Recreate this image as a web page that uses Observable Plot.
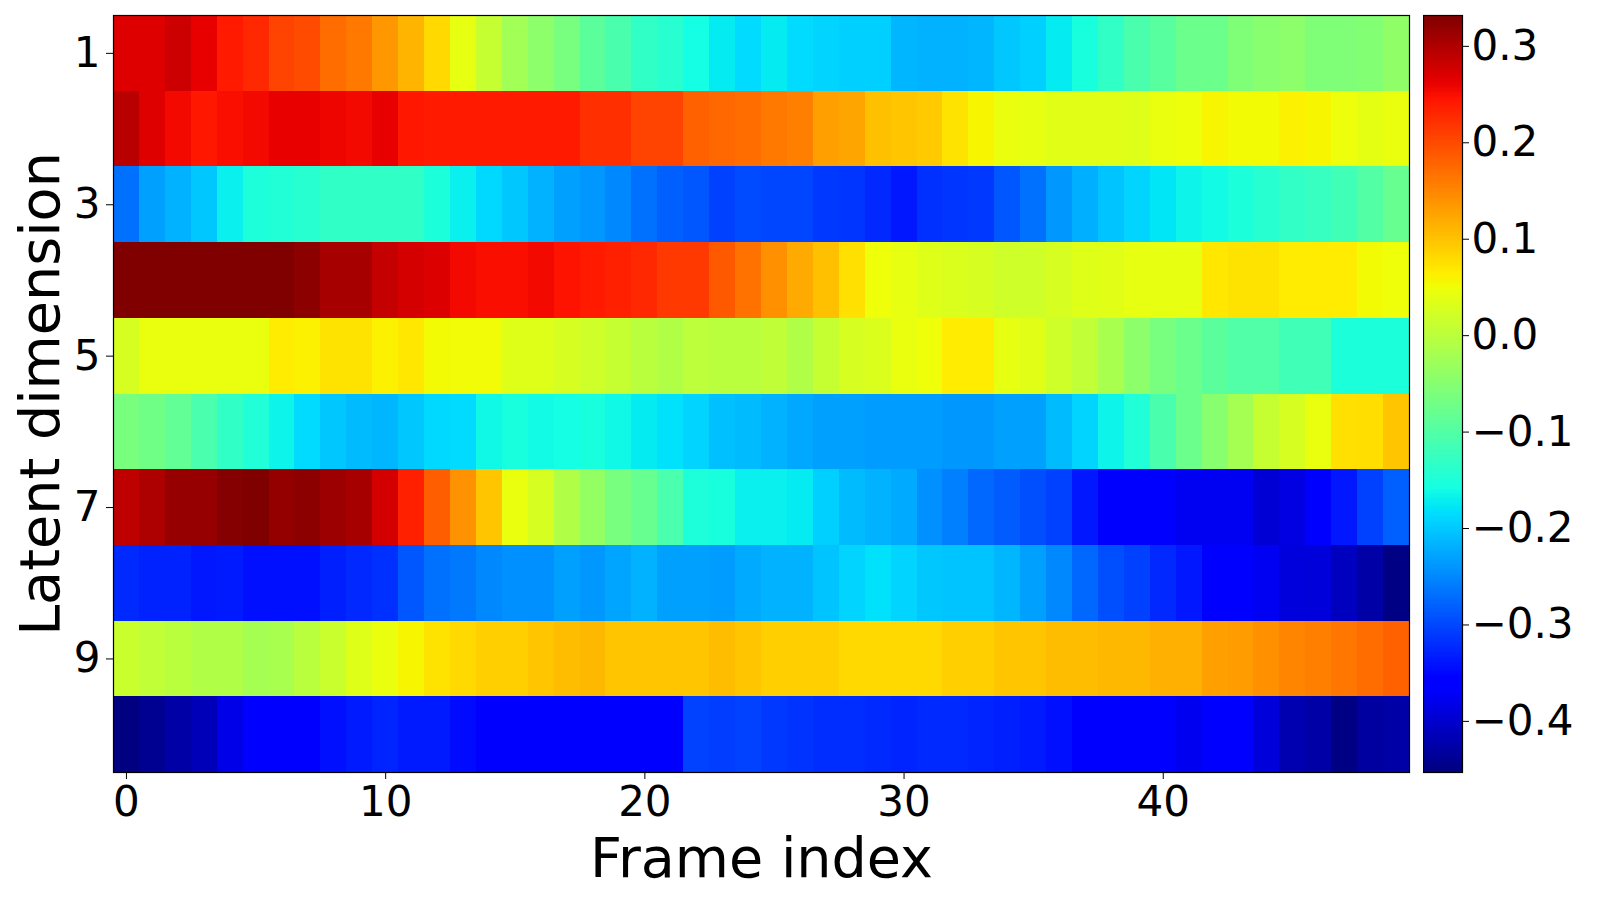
<!DOCTYPE html>
<html>
<head>
<meta charset="utf-8">
<script src="https://cdn.jsdelivr.net/npm/d3@7"></script>
<script src="https://cdn.jsdelivr.net/npm/@observablehq/plot@0.6"></script>
<style>
  html, body { margin: 0; padding: 0; background: #fff; overflow: hidden; }
  #wrap { position: relative; width: 1600px; height: 900px; font-family: "DejaVu Sans", sans-serif; overflow: hidden; }
  #main, #cbar { position: absolute; top: 0; }
  #main { left: 0; width: 1420px; }
  #cbar { left: 1423px; width: 189px; }
  #main svg, #cbar svg { max-width: none !important; display: block; }
</style>
</head>
<body>
<div id="wrap"><div id="main"></div><div id="cbar"></div></div>
<script>
// ---- data ----
const xLabel = "Frame index";
const yLabel = "Latent dimension";
const xTicks = [0, 10, 20, 30, 40];
const yTicks = [1, 3, 5, 7, 9];
const cbTicks = [-0.4, -0.3, -0.2, -0.1, 0.0, 0.1, 0.2, 0.3];
const vMin = -0.453, vMax = 0.332;
const dims = [1, 2, 3, 4, 5, 6, 7, 8, 9, 10];

const dim1 = [0.268,0.268,0.280,0.261,0.240,0.228,0.206,0.199,0.171,0.161,0.136,0.112,0.081,0.042,0.010,-0.025,-0.045,-0.064,-0.092,-0.109,
              -0.132,-0.141,-0.159,-0.174,-0.186,-0.174,-0.186,-0.192,-0.195,-0.195,-0.214,-0.218,-0.218,-0.214,-0.201,-0.195,-0.174,-0.155,-0.132,-0.109,
              -0.094,-0.076,-0.076,-0.057,-0.049,-0.045,-0.057,-0.057,-0.053,-0.041];
const dim2 = [0.294,0.268,0.254,0.242,0.250,0.254,0.261,0.261,0.257,0.254,0.261,0.242,0.240,0.240,0.240,0.240,0.240,0.240,0.222,0.222,
              0.206,0.206,0.181,0.175,0.171,0.161,0.155,0.128,0.124,0.102,0.097,0.093,0.073,0.057,0.045,0.042,0.036,0.036,0.036,0.034,
              0.045,0.048,0.057,0.053,0.053,0.061,0.057,0.048,0.040,0.045];
const dim3 = [-0.269,-0.232,-0.218,-0.201,-0.170,-0.151,-0.147,-0.141,-0.132,-0.132,-0.132,-0.132,-0.152,-0.170,-0.188,-0.201,-0.218,-0.232,-0.238,-0.250,
              -0.269,-0.281,-0.288,-0.305,-0.298,-0.302,-0.302,-0.312,-0.315,-0.324,-0.337,-0.318,-0.315,-0.312,-0.288,-0.269,-0.238,-0.220,-0.204,-0.192,
              -0.178,-0.166,-0.161,-0.152,-0.141,-0.131,-0.127,-0.117,-0.100,-0.080];
const dim4 = [0.332,0.332,0.332,0.332,0.332,0.332,0.332,0.323,0.305,0.305,0.285,0.275,0.269,0.254,0.250,0.250,0.254,0.246,0.240,0.235,
              0.228,0.214,0.214,0.187,0.167,0.142,0.120,0.102,0.075,0.049,0.042,0.034,0.030,0.026,0.018,0.018,0.026,0.034,0.036,0.042,
              0.042,0.042,0.069,0.073,0.073,0.065,0.065,0.065,0.053,0.049];
const dim5 = [0.026,0.045,0.045,0.045,0.045,0.045,0.065,0.061,0.073,0.073,0.061,0.069,0.053,0.052,0.052,0.034,0.034,0.026,0.018,0.010,
              -0.002,-0.010,0.002,-0.002,-0.002,0.005,-0.010,0.010,0.026,0.030,0.045,0.049,0.065,0.065,0.042,0.036,0.018,0.006,-0.017,-0.045,
              -0.064,-0.076,-0.092,-0.102,-0.102,-0.117,-0.117,-0.152,-0.152,-0.152];
const dim6 = [-0.063,-0.072,-0.086,-0.108,-0.132,-0.148,-0.166,-0.186,-0.201,-0.210,-0.214,-0.201,-0.188,-0.186,-0.163,-0.155,-0.161,-0.159,-0.155,-0.163,
              -0.174,-0.182,-0.192,-0.207,-0.210,-0.218,-0.225,-0.232,-0.232,-0.235,-0.235,-0.235,-0.238,-0.238,-0.232,-0.232,-0.210,-0.192,-0.166,-0.148,
              -0.109,-0.076,-0.049,-0.021,0.010,0.026,0.045,0.075,0.077,0.097];
const dim7 = [0.289,0.301,0.316,0.316,0.328,0.332,0.318,0.323,0.313,0.305,0.275,0.235,0.183,0.140,0.097,0.045,0.026,-0.010,-0.037,-0.064,
              -0.080,-0.108,-0.151,-0.155,-0.170,-0.170,-0.174,-0.195,-0.210,-0.218,-0.223,-0.244,-0.257,-0.275,-0.284,-0.294,-0.305,-0.337,-0.359,-0.359,
              -0.359,-0.375,-0.375,-0.375,-0.396,-0.386,-0.359,-0.337,-0.305,-0.281];
const dim8 = [-0.323,-0.329,-0.329,-0.337,-0.335,-0.343,-0.343,-0.343,-0.331,-0.324,-0.318,-0.288,-0.269,-0.262,-0.250,-0.244,-0.244,-0.232,-0.238,-0.228,
              -0.218,-0.232,-0.232,-0.235,-0.223,-0.218,-0.218,-0.204,-0.192,-0.182,-0.192,-0.201,-0.204,-0.204,-0.214,-0.232,-0.250,-0.275,-0.294,-0.305,
              -0.324,-0.337,-0.359,-0.359,-0.375,-0.390,-0.392,-0.410,-0.426,-0.450];
const dim9 = [0.014,0.006,-0.002,-0.010,-0.010,-0.021,-0.017,-0.002,0.014,0.034,0.045,0.057,0.073,0.081,0.089,0.089,0.097,0.104,0.108,0.097,
              0.097,0.097,0.097,0.104,0.097,0.089,0.089,0.089,0.081,0.081,0.081,0.081,0.089,0.089,0.097,0.097,0.104,0.104,0.108,0.108,
              0.115,0.115,0.128,0.132,0.142,0.151,0.155,0.163,0.171,0.181];
const dim10 = [-0.453,-0.441,-0.426,-0.414,-0.382,-0.363,-0.359,-0.359,-0.343,-0.335,-0.327,-0.335,-0.335,-0.347,-0.355,-0.355,-0.355,-0.355,-0.355,-0.355,
               -0.355,-0.355,-0.304,-0.308,-0.304,-0.312,-0.316,-0.320,-0.320,-0.323,-0.327,-0.323,-0.323,-0.327,-0.331,-0.335,-0.343,-0.359,-0.363,-0.363,
               -0.359,-0.377,-0.359,-0.359,-0.392,-0.420,-0.426,-0.450,-0.431,-0.426];

const rows = [dim1, dim2, dim3, dim4, dim5, dim6, dim7, dim8, dim9, dim10];
const cells = [];
rows.forEach((vals, r) => vals.forEach((v, f) => cells.push({dim: dims[r], frame: f, v})));

// matplotlib "jet" colormap definition
const jetSeg = {
  r: [[0, 0], [0.35, 0], [0.66, 1], [0.89, 1], [1, 0.5]],
  g: [[0, 0], [0.125, 0], [0.375, 1], [0.64, 1], [0.91, 0], [1, 0]],
  b: [[0, 0.5], [0.11, 1], [0.34, 1], [0.65, 0], [1, 0]]
};
function segInterp(pts, t) {
  t = Math.max(0, Math.min(1, t));
  for (let i = 1; i < pts.length; i++) {
    if (t <= pts[i][0]) {
      const [x0, y0] = pts[i - 1], [x1, y1] = pts[i];
      return y0 + (y1 - y0) * (t - x0) / (x1 - x0);
    }
  }
  return pts[pts.length - 1][1];
}
function jet(t) {
  return d3.rgb(255 * segInterp(jetSeg.r, t), 255 * segInterp(jetSeg.g, t), 255 * segInterp(jetSeg.b, t)).toString();
}
const colorScale = {type: "linear", domain: [vMin, vMax], interpolate: () => jet, clamp: true};

const FS = 42, LFS = 55.6;

const main = Plot.plot({
  width: 1420, height: 900,
  marginLeft: 113, marginRight: 11, marginTop: 15, marginBottom: 128,
  style: {fontFamily: "DejaVu Sans, sans-serif", fontSize: FS + "px", color: "black", background: "white"},
  x: {type: "linear", domain: [-0.5, 49.5]},
  y: {type: "linear", domain: [0.5, 10.5], reverse: true},
  color: colorScale,
  marks: [
    Plot.rect(cells, {
      x1: d => d.frame - 0.5, x2: d => d.frame + 0.5,
      y1: d => d.dim - 0.5, y2: d => d.dim + 0.5,
      fill: "v", shapeRendering: "crispEdges"
    }),
    Plot.frame({stroke: "black", strokeWidth: 1.2}),
    Plot.axisX({ticks: xTicks, tickSize: 7, tickPadding: 7, fontSize: FS, label: null, tickFormat: d3.format("d")}),
    Plot.axisY({ticks: yTicks, tickSize: 7, tickPadding: 6, fontSize: FS, label: null, tickFormat: d3.format("d")}),
    Plot.text([xLabel], {frameAnchor: "bottom", dy: 87, fontSize: LFS, lineAnchor: "middle", text: d => d}),
    Plot.text([yLabel], {frameAnchor: "left", dx: -72, rotate: -90, fontSize: LFS, lineAnchor: "middle", textAnchor: "middle", text: d => d})
  ]
});
document.getElementById("main").appendChild(main);

// colorbar
const nSlices = 300;
const slices = d3.range(nSlices).map(i => ({
  y1: vMin + (vMax - vMin) * i / nSlices,
  y2: vMin + (vMax - vMin) * (i + 1) / nSlices
}));
const cbar = Plot.plot({
  width: 39 + 150, height: 900,
  marginLeft: 0, marginRight: 150, marginTop: 15, marginBottom: 128,
  style: {fontFamily: "DejaVu Sans, sans-serif", fontSize: FS + "px", color: "black", background: "white"},
  x: {domain: [0, 1], axis: null},
  y: {type: "linear", domain: [vMin, vMax]},
  color: colorScale,
  marks: [
    Plot.rect(slices, {x1: 0, x2: 1, y1: "y1", y2: "y2", fill: d => (d.y1 + d.y2) / 2, shapeRendering: "crispEdges"}),
    Plot.frame({stroke: "black", strokeWidth: 1.2}),
    Plot.axisY({anchor: "right", ticks: cbTicks, tickSize: 6, tickPadding: 3, fontSize: FS, label: null, tickFormat: d3.format(".1f")})
  ]
});
document.getElementById("cbar").appendChild(cbar);
</script>
</body>
</html>
